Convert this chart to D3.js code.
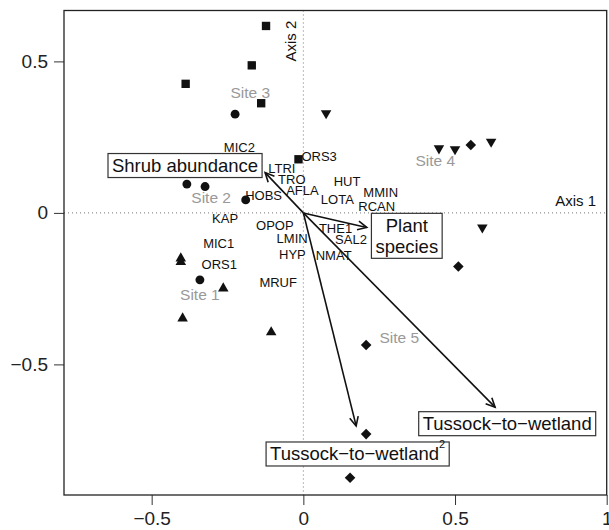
<!DOCTYPE html>
<html><head><meta charset="utf-8">
<script src="https://cdn.jsdelivr.net/npm/d3@7"></script>
<style>body{margin:0;background:#fff}svg{display:block}text{font-family:"Liberation Sans",Arial,Helvetica,sans-serif}</style>
</head><body><div id="chart"></div>
<script>
// Site scores (axis 1, axis 2) by group
const squares = [[-0.123,0.617],[-0.170,0.487],[-0.388,0.426],[-0.139,0.362],[-0.016,0.177]];
const circles = [[-0.225,0.326],[-0.384,0.095],[-0.324,0.087],[-0.190,0.043],[-0.341,-0.221]];
const trianglesUp = [[-0.404,-0.150],[-0.404,-0.162],[-0.264,-0.249],[-0.398,-0.348],[-0.106,-0.394]];
const trianglesDown = [[0.075,0.329],[0.447,0.213],[0.500,0.210],[0.619,0.235],[0.590,-0.048]];
const diamonds = [[0.552,0.224],[0.511,-0.177],[0.207,-0.436],[0.207,-0.730],[0.154,-0.874]];
// Species labels
const speciesNames = ["MIC2","LTRI","TRO","AFLA","HOBS","HUT","LOTA","MMIN","RCAN","KAP","OPOP","LMIN","THE1","SAL2","MIC1","HYP","NMAT","ORS1","MRUF","ORS3"];
const speciesX = [-0.211,-0.071,-0.038,-0.003,-0.131,0.144,0.112,0.255,0.242,-0.258,-0.094,-0.037,0.106,0.157,-0.279,-0.036,0.100,-0.277,-0.083,0.052];
const speciesY = [0.216,0.146,0.111,0.073,0.057,0.102,0.045,0.067,0.020,-0.019,-0.041,-0.085,-0.052,-0.087,-0.102,-0.138,-0.140,-0.171,-0.229,0.186];
// Site group labels
const siteNames = ["Site 1","Site 2","Site 3","Site 4","Site 5"];
const siteX = [-0.341,-0.304,-0.175,0.435,0.316];
const siteY = [-0.270,0.052,0.399,0.172,-0.412];
// Environmental vectors
const vecNames = ["Shrub abundance","Plant species","Tussock\u2212to\u2212wetland","Tussock\u2212to\u2212wetland"];
const vecX = [-0.126,0.209,0.632,0.174];
const vecY = [0.133,-0.048,-0.641,-0.703];
const vecLabelX = [-0.390,0.341,0.672,0.179];
const vecLabelY = [0.158,-0.074,-0.694,-0.794];
// Axes
const xTicks = [-0.5,0,0.5,1];
const yTicks = [-0.5,0,0.5];
const xDomain = [-0.789,1.0];
const yDomain = [-0.931,0.668];

const W=609,H=530;
const L=64,R=606.7,T=10.5,B=495;
const svg=d3.select("#chart").append("svg").attr("width",W).attr("height",H);
const x=d3.scaleLinear().domain(xDomain).range([L,R]);
const y=d3.scaleLinear().domain(yDomain).range([B,T]);
const fmt=d=>d===0?"0":(d<0?"\u2212":"")+String(Math.abs(d));

// dotted zero lines
svg.append("line").attr("x1",L).attr("x2",R).attr("y1",y(0)).attr("y2",y(0))
  .attr("stroke","#777").attr("stroke-width",1).attr("stroke-dasharray","1,3");
svg.append("line").attr("y1",T).attr("y2",B).attr("x1",x(0)).attr("x2",x(0))
  .attr("stroke","#777").attr("stroke-width",1).attr("stroke-dasharray","1,3");

// axes
const xa=svg.append("g").attr("transform",`translate(0,${B})`)
  .call(d3.axisBottom(x).tickValues(xTicks).tickSize(10).tickPadding(7).tickFormat(fmt));
const ya=svg.append("g").attr("transform",`translate(${L},0)`)
  .call(d3.axisLeft(y).tickValues(yTicks).tickSize(10).tickPadding(6).tickFormat(fmt));
[xa,ya].forEach(g=>{g.select(".domain").remove();g.selectAll("line").attr("stroke","#333");
  g.selectAll("text").attr("font-size",19).attr("fill","#222").style("font-family",'"Liberation Sans",Arial,sans-serif');});
// frame
svg.append("rect").attr("x",L).attr("y",T).attr("width",R-L).attr("height",B-T)
  .attr("fill","none").attr("stroke","#222").attr("stroke-width",1.3);

// Axis labels inside
svg.append("text").attr("x",x(0.965)).attr("y",y(0)-7).attr("text-anchor","end")
  .attr("font-size",15).attr("fill","#111").text("Axis 1");
svg.append("text").attr("transform",`translate(${x(0)-13},${y(0.567)}) rotate(-90)`).attr("text-anchor","middle")
  .attr("dominant-baseline","central").attr("font-size",15).attr("fill","#111").text("Axis 2");

// species labels
svg.append("g").selectAll("text").data(speciesNames).join("text")
  .attr("x",(d,i)=>x(speciesX[i])).attr("y",(d,i)=>y(speciesY[i]))
  .attr("text-anchor","middle").attr("dominant-baseline","central")
  .attr("font-size",13).attr("fill","#111").text(d=>d);

// site labels
svg.append("g").selectAll("text").data(siteNames).join("text")
  .attr("x",(d,i)=>x(siteX[i])).attr("y",(d,i)=>y(siteY[i]))
  .attr("text-anchor","middle").attr("dominant-baseline","central")
  .attr("font-size",15.5).attr("fill","#999").text(d=>d);

// points
const g=svg.append("g").attr("fill","#111");
const sym=(type,size)=>d3.symbol().type(type).size(size)();
g.selectAll(".sq").data(squares).join("path").attr("d",sym(d3.symbolSquare,70))
  .attr("transform",d=>`translate(${x(d[0])},${y(d[1])})`);
g.selectAll(".ci").data(circles).join("path").attr("d",sym(d3.symbolCircle,62))
  .attr("transform",d=>`translate(${x(d[0])},${y(d[1])})`);
g.selectAll(".tu").data(trianglesUp).join("path").attr("d",sym(d3.symbolTriangle,48))
  .attr("transform",d=>`translate(${x(d[0])},${y(d[1])})`);
g.selectAll(".td").data(trianglesDown).join("path").attr("d",sym(d3.symbolTriangle,48))
  .attr("transform",d=>`translate(${x(d[0])},${y(d[1])}) rotate(180)`);
g.selectAll(".di").data(diamonds).join("path").attr("d",sym(d3.symbolSquare,56))
  .attr("transform",d=>`translate(${x(d[0])},${y(d[1])}) rotate(45)`);

// vectors
const va=svg.append("g").attr("stroke","#111").attr("stroke-width",1.6).attr("fill","none");
vecX.forEach((vx,i)=>{
  const x0=x(0),y0=y(0),x1=x(vx),y1=y(vecY[i]);
  va.append("line").attr("x1",x0).attr("y1",y0).attr("x2",x1).attr("y2",y1);
  const a=Math.atan2(y1-y0,x1-x0),len=10,sp=0.45;
  va.append("path").attr("d",`M${x1-len*Math.cos(a-sp)},${y1-len*Math.sin(a-sp)}L${x1},${y1}L${x1-len*Math.cos(a+sp)},${y1-len*Math.sin(a+sp)}`);
});

// boxed labels
const lb=svg.append("g");
function boxed(cx,cy,lines,sup){
  const gg=lb.append("g");
  const fs=18.5,lh=21;
  const n=lines.length;
  lines.forEach((ln,k)=>{
    const t=gg.append("text").attr("x",cx).attr("y",cy+(k-(n-1)/2)*lh).attr("text-anchor","middle")
      .attr("dominant-baseline","central").attr("font-size",fs).attr("fill","#111");
    t.append("tspan").text(ln);
    if(sup&&k===n-1) t.append("tspan").attr("font-size",11).attr("dy",-9).text(sup);
  });
  const bb=gg.node().getBBox();
  gg.insert("rect",":first-child").attr("x",bb.x-4).attr("y",cy-(n*lh)/2-1).attr("width",bb.width+8)
    .attr("height",n*lh+3).attr("fill","#fff").attr("stroke","#333").attr("stroke-width",1.2);
}
boxed(x(vecLabelX[0]),y(vecLabelY[0]),[vecNames[0]]);
boxed(x(vecLabelX[1]),y(vecLabelY[1]),["Plant","species"]);
boxed(x(vecLabelX[2]),y(vecLabelY[2]),[vecNames[2]]);
boxed(x(vecLabelX[3]),y(vecLabelY[3]),[vecNames[3]],"2");
</script></body></html>
